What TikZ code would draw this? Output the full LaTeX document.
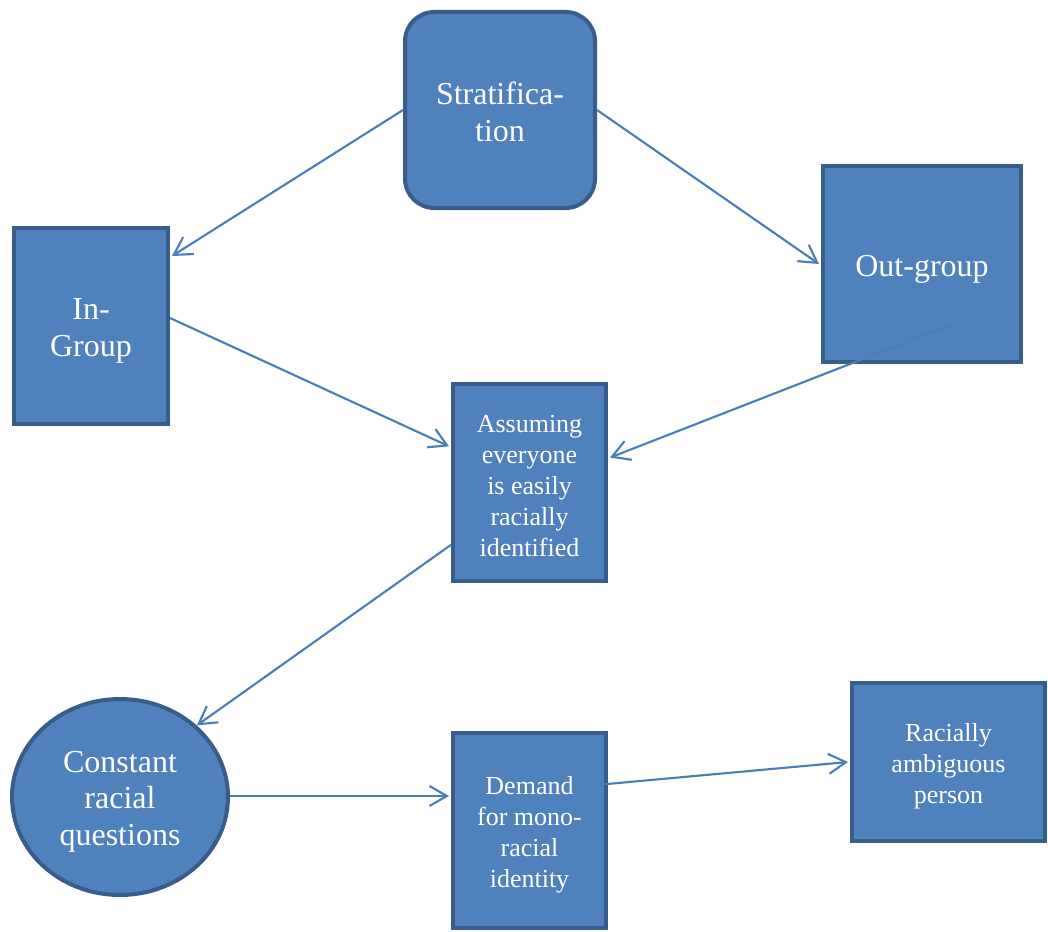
\documentclass[tikz,border=0pt]{standalone}
\usepackage{fontspec}
\setmainfont{Liberation Serif}
\usetikzlibrary{shapes.geometric,arrows.meta,calc}
\definecolor{boxfill}{HTML}{4F81BD}
\definecolor{boxline}{HTML}{385D8A}
\definecolor{arrowc}{HTML}{4A7EBB}
\begin{document}
\begin{tikzpicture}[x=0.75pt,y=-0.75pt,
  box/.style={draw=boxline,fill=boxfill,line width=3pt,inner sep=0pt},
  bigtext/.style={text=white,align=center,inner sep=0pt,font=\fontsize{24}{27.5}\selectfont},
  smalltext/.style={text=white,align=center,inner sep=0pt,font=\fontsize{19.5}{23.25}\selectfont},
  conn/.style={draw=arrowc,line width=1.6pt,-{Straight Barb[length=13pt,width=15pt,line width=1.6pt]}}]
\useasboundingbox (0,0) rectangle (1048,931);
\node[box,rounded corners=22pt,minimum width=142.5pt,minimum height=147pt,
  label={[bigtext,yshift=-1.2pt]center:{Stratifica-\\tion}}] (strat) at (500,110) {};
\node[box,minimum width=115.5pt,minimum height=147pt,
  label={[bigtext,yshift=-3.8pt]center:{In-\\Group}}] (ingroup) at (91,326) {};
\node[box,minimum width=148.5pt,minimum height=147pt,
  label={[bigtext,yshift=-4pt]center:{Out-group}}] (outgroup) at (922,264) {};
\node[box,minimum width=114.75pt,minimum height=147.75pt,
  label={[smalltext,yshift=-2.5pt]center:{Assuming\\everyone\\is easily\\racially\\identified}}] (assume) at (529.5,482.5) {};
\node[box,ellipse,minimum width=162pt,minimum height=147pt,
  label={[bigtext,yshift=-3.5pt]center:{Constant\\racial\\questions}}] (constant) at (120,797) {};
\node[box,minimum width=114.75pt,minimum height=146pt,
  label={[smalltext,yshift=-3.5pt]center:{Demand\\for mono-\\racial\\identity}}] (demand) at (529.5,830.5) {};
\node[box,minimum width=144.75pt,minimum height=118.5pt,
  label={[smalltext,yshift=-3.5pt]center:{Racially\\ambiguous\\person}}] (ambig) at (948.5,762) {};
\coordinate (outstart) at ($(outgroup.center)+(28,61)$);
\coordinate (demstart) at ($(demand.center)+(66.5,-45.5)$);
\draw[conn] (strat.west) -- ($(ingroup.north east)!0.15!(ingroup.south east)+(2,0)$);
\draw[conn] (strat.east) -- ($(outgroup.west)+(-2,0)$);
\draw[conn] ($(ingroup.north east)!0.46!(ingroup.south east)$) -- ($(assume.north west)!0.32!(assume.south west)+(-2,0)$);
\draw[conn] (outstart) -- ($(assume.north east)!0.376!(assume.south east)+(2,0)$);
\draw[conn] ($(assume.north west)!0.81!(assume.south west)$) -- (constant.43);
\draw[conn] ($(constant.east)+(0,-1)$) -- ($(constant.east -| demand.west)+(-2,-1)$);
\draw[conn] (demstart) -- ($(ambig.west)+(-2,0)$);
\end{tikzpicture}
\end{document}
